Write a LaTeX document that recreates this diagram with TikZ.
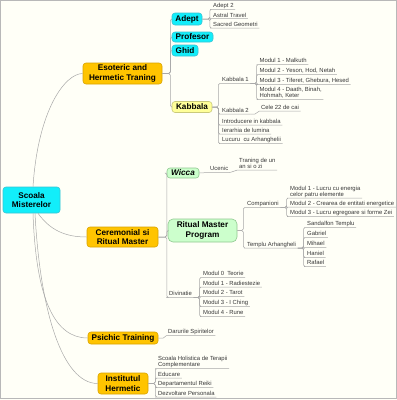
\documentclass[tikz,border=0pt]{standalone}
\usepackage{fontspec}
\setmainfont{Liberation Sans}
\definecolor{bgC}{HTML}{FFFFF7}
\definecolor{frameC}{HTML}{B8B8B8}
\definecolor{lineGray}{HTML}{A8A8A8}
\definecolor{cyanF}{HTML}{12EEFA}
\definecolor{cyanD}{HTML}{38C4D4}
\definecolor{orF}{HTML}{FFC400}
\definecolor{orD}{HTML}{D9A400}
\definecolor{yelF}{HTML}{FFFF99}
\definecolor{yelD}{HTML}{CACA7A}
\definecolor{grF}{HTML}{CCFFCC}
\definecolor{grD}{HTML}{90C890}
\definecolor{leafT}{HTML}{383838}
\tikzset{
  ln/.style={draw=lineGray, line width=0.5pt},
  br/.style={ln, rounded corners=1.5pt},
  box/.style={rounded corners=3pt, line width=0.6pt, inner sep=0pt, align=center,
    font=\bfseries\fontsize{8.2}{9.5}\selectfont},
  cyanbox/.style={box, fill=cyanF, draw=cyanD},
  orbox/.style={box, fill=orF, draw=orD},
  yelbox/.style={box, fill=yelF, draw=yelD},
  grbox/.style={box, fill=grF, draw=grD},
  leaf/.style={anchor=south west, inner xsep=1.5pt, inner ysep=0.5pt, text depth=0.9pt,
    align=left, text=leafT, font=\fontsize{5.9}{6.2}\selectfont},
}
\begin{document}
\begin{tikzpicture}[x=1pt,y=-1pt]
\useasboundingbox (0,0) rectangle (397,400);
\fill[bgC] (0,0) rectangle (397,400);
\draw[frameC, line width=0.8pt] (0.6,0.6) rectangle (396.2,398.6);

% main nodes
\node[cyanbox, minimum width=57pt, minimum height=26pt] (root) at (31.5,200) {Scoala\\Misterelor};
\node[orbox, minimum width=79pt, minimum height=21pt] (eso) at (122.5,73.5) {Esoteric and\\Hermetic Traning};
\node[orbox, minimum width=71pt, minimum height=20pt] (cer) at (122.5,237) {Ceremonial si\\Ritual Master};
\node[orbox, minimum width=70pt, minimum height=12pt] (psi) at (123,338) {Psichic Training};
\node[orbox, minimum width=50pt, minimum height=21pt] (ins) at (123,383.5) {Institutul\\Hermetic};

% level 2 boxes
\node[cyanbox, minimum width=30pt, minimum height=12pt] (adept) at (187,19) {Adept};
\node[cyanbox, minimum width=41pt, minimum height=10pt] (prof) at (192.5,37) {Profesor};
\node[cyanbox, minimum width=26pt, minimum height=11pt] (ghid) at (185,50.5) {Ghid};
\node[yelbox, minimum width=40pt, minimum height=11pt] (kab) at (192,107) {Kabbala};
\node[grbox, minimum width=32pt, minimum height=10pt, font=\bfseries\itshape\fontsize{8.2}{9.5}\selectfont] (wic) at (183,173) {Wicca};
\node[grbox, rounded corners=5pt, minimum width=69pt, minimum height=23pt] (rmp) at (202.5,230.5) {Ritual Master\\Program};

% leaves: Adept
\node[leaf] (a2) at (211.5,9.3) {Adept 2};
\node[leaf] (a3) at (211.5,18.6) {Astral Travel};
\node[leaf] (a4) at (211.5,28) {Sacred Geometri};
% leaves: Kabbala
\node[leaf] (k1) at (220.5,83.5) {Kabbala 1};
\node[leaf] (k2) at (220.5,114) {Kabbala 2};
\node[leaf] (ki) at (220.5,125) {Introducere in kabbala};
\node[leaf] (kl) at (220.5,134) {Ierarhia de lumina};
\node[leaf] (ka) at (220.5,143.5) {Lucuru\ \ cu Arhanghelii};
\node[leaf] (m1) at (258,64.5) {Modul 1 - Malkuth};
\node[leaf] (m2) at (258,74.5) {Modul 2 - Yeson, Hod, Netah};
\node[leaf] (m3) at (258,84.5) {Modul 3 - Tiferet, Ghebura, Hesed};
\node[leaf] (m4) at (258,99.5) {Modul 4 - Daath, Binah,\\Hohmah, Keter};
\node[leaf] (cele) at (259.5,111) {Cele 22 de cai};
% leaves: Ceremonial
\node[leaf] (uc) at (208.5,172.5) {Ucenic};
\node[leaf] (tr) at (237.5,170) {Traning de un\\an si o zi};
\node[leaf] (comp) at (245.5,207.5) {Companioni};
\node[leaf] (templ) at (245.5,248) {Templu Arhangheli};
\node[leaf] (c1) at (288.5,198) {Modul 1 - Lucru cu energia\\celor patru elemente};
\node[leaf] (c2) at (288.5,207) {Modul 2 - Crearea de entitati energetice};
\node[leaf] (c3) at (288.5,216.5) {Modul 3 - Lucru egregoare si forme Zei};
\node[leaf] (t1) at (305.5,227.5) {Sandalfon Templu};
\node[leaf] (t2) at (305.5,237.5) {Gabriel};
\node[leaf] (t3) at (305.5,247.5) {Mihael};
\node[leaf] (t4) at (305.5,257.5) {Haniel};
\node[leaf] (t5) at (305.5,266.5) {Rafael};
\node[leaf] (div) at (167.5,297.5) {Divinatie};
\node[leaf] (d0) at (201.5,277.5) {Modul 0\ \ Teorie};
\node[leaf] (d1) at (201.5,287) {Modul 1 - Radiestezie};
\node[leaf] (d2) at (201.5,296.5) {Modul 2 - Tarot};
\node[leaf] (d3) at (201.5,306.5) {Modul 3 - I Ching};
\node[leaf] (d4) at (201.5,316.5) {Modul 4 - Rune};
% leaves: Psichic, Institutul
\node[leaf] (dar) at (166.5,335.5) {Darurile Spiritelor};
\node[leaf] (i1) at (156.5,368.5) {Scoala Holistica de Terapii\\Complementare};
\node[leaf] (i2) at (156.5,378) {Educare};
\node[leaf] (i3) at (156.5,387.5) {Departamentul Reiki};
\node[leaf] (i4) at (156.5,397) {Dezvoltare Personala};

% bracket junctions
\coordinate (bk1) at (256.5,83.5);
\coordinate (ck2) at (255,114);
\coordinate (bcp) at (286.5,207.5);
\coordinate (bta) at (303.5,248);
\coordinate (bdv) at (199.5,297.5);

% root curves
\draw[ln] ([xshift=1.5pt]root.north) .. controls (38,110) and (65,73.5) .. (eso.west);
\draw[ln] ([xshift=6.5pt]root.south) .. controls (50,230) and (65,237) .. (cer.west);
\draw[ln] ([xshift=1.5pt]root.south) .. controls (36,300) and (55,338) .. (psi.west);
\draw[ln] ([xshift=3.5pt]root.south) .. controls (40,310) and (62,383.5) .. (ins.west);

% Esoteric
\foreach \c in {adept,prof,ghid,kab}
  \draw[br] (eso.east) -- ([xshift=8pt]eso.east) |- (\c.west);
\foreach \c in {a2,a3,a4}
  \draw[br] (adept.east) -- ([xshift=7.5pt]adept.east) |- (\c.south west) -- (\c.south east);
\foreach \c in {k1,k2,ki,kl,ka}
  \draw[br] (kab.east) -- ([xshift=6pt]kab.east) |- (\c.south west) -- (\c.south east);
\foreach \c in {m1,m2,m3,m4}
  \draw[br] (k1.south east) -- (bk1) |- (\c.south west) -- (\c.south east);
\draw[ln] (k2.south east) -- (ck2) -- (cele.south west) -- (cele.south east);

% Ceremonial
\foreach \c in {wic,rmp}
  \draw[br] (cer.east) -- ([xshift=8.5pt]cer.east) |- (\c.west);
\draw[br] (cer.east) -- ([xshift=8.5pt]cer.east) |- (div.south west) -- (div.south east);
\draw[ln] (wic.east) -- (uc.south west) -- (uc.south east) -- (tr.south west) -- (tr.south east);
\foreach \c in {comp,templ}
  \draw[br] (rmp.east) -- ([xshift=6pt]rmp.east) |- (\c.south west) -- (\c.south east);
\foreach \c in {c1,c2,c3}
  \draw[br] (comp.south east) -- (bcp) |- (\c.south west) -- (\c.south east);
\foreach \c in {t1,t2,t3,t4,t5}
  \draw[br] (templ.south east) -- (bta) |- (\c.south west) -- (\c.south east);
\foreach \c in {d0,d1,d2,d3,d4}
  \draw[br] (div.south east) -- (bdv) |- (\c.south west) -- (\c.south east);

% Psichic
\draw[ln] (psi.east) -- ++(5,0) -- (dar.south west) -- (dar.south east);
% Institutul
\foreach \c in {i1,i2,i3,i4}
  \draw[br] (ins.east) -- ([xshift=7pt]ins.east) |- (\c.south west) -- (\c.south east);
\end{tikzpicture}
\end{document}
